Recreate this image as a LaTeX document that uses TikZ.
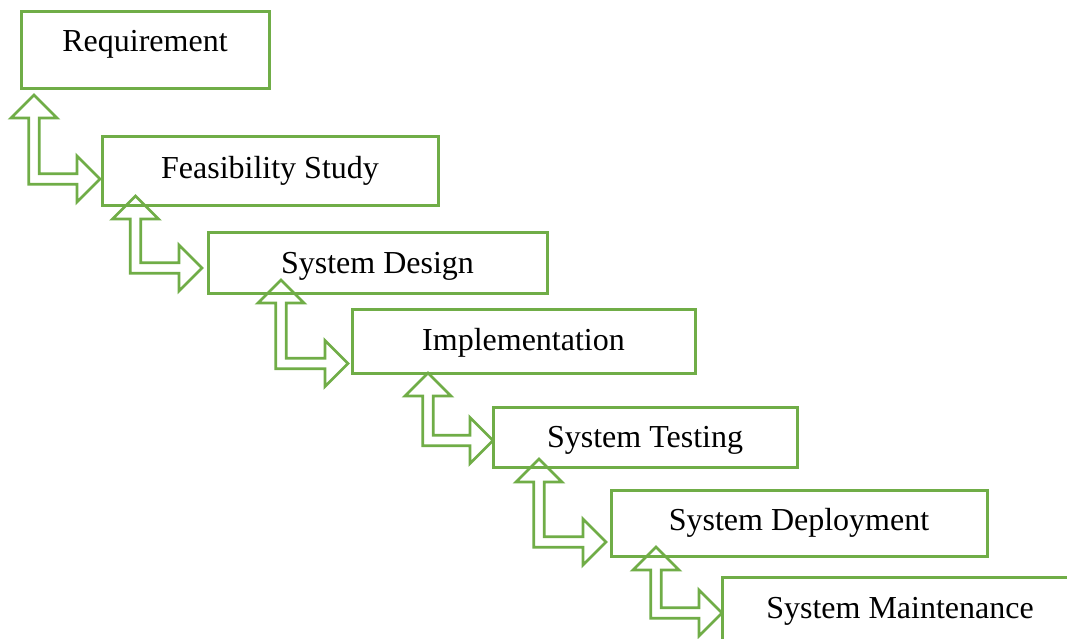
\documentclass[tikz,border=0pt]{standalone}
\usepackage{fontspec}
\setmainfont{Liberation Serif}
\definecolor{ogreen}{HTML}{70AD47}
\tikzset{
  box/.style={draw=ogreen, line width=3pt, rectangle, inner sep=0pt, outer sep=0pt},
  lbl/.style={anchor=base, inner sep=0pt, font=\fontsize{32}{38}\selectfont},
  arr/.style={draw=ogreen, line width=2.8pt, line join=miter}
}
% #1 shaft centre x, #2 up tip y, #3 horizontal shaft centre y, #4 right tip x
\newcommand\bentarrow[4]{%
  \draw[arr] (#1,#2) -- ({#1+23},{#2+23}) -- ({#1+5.25},{#2+23}) -- ({#1+5.25},{#3-5.25})
    -- ({#4-23},{#3-5.25}) -- ({#4-23},{#3-23}) -- (#4,#3) -- ({#4-23},{#3+23})
    -- ({#4-23},{#3+5.25}) -- ({#1-5.25},{#3+5.25}) -- ({#1-5.25},{#2+23})
    -- ({#1-23},{#2+23}) -- cycle;}
\begin{document}
\begin{tikzpicture}[x=1pt,y=-1pt]
\useasboundingbox (0,0) rectangle (1067,639);
\clip (0,0) rectangle (1067,639);
\fill[white] (0,0) rectangle (1067,639);
% boxes
\node[box, minimum width=248pt, minimum height=77pt] (b1) at (145,50.5) {};
\node[box, minimum width=336pt, minimum height=68pt] (b2) at (270,171) {};
\node[box, minimum width=339pt, minimum height=61pt] (b3) at (377.5,262.5) {};
\node[box, minimum width=343pt, minimum height=64pt] (b4) at (523.5,341) {};
\node[box, minimum width=304pt, minimum height=60pt] (b5) at (645,437) {};
\node[box, minimum width=376pt, minimum height=66pt] (b6) at (799,523) {};
\node[box, minimum width=358pt, minimum height=83pt] (b7) at (901,618.5) {};
% arrows
\bentarrow{34}{95}{179}{100}
\bentarrow{135.5}{196}{268}{202}
\bentarrow{281}{280}{363.5}{348}
\bentarrow{428}{373}{440.5}{493}
\bentarrow{539}{459}{542}{606}
\bentarrow{656}{547}{613}{722}
% labels
\node[lbl] (t1) at (145,52) {Requirement};
\node[lbl] (t2) at (270,178.5) {Feasibility Study};
\node[lbl] (t3) at (377.5,273.5) {System Design};
\node[lbl] (t4) at (523.5,350.5) {Implementation};
\node[lbl] (t5) at (645,447.5) {System Testing};
\node[lbl] (t6) at (799,530.5) {System Deployment};
\node[lbl] (t7) at (900,618) {System Maintenance};
\end{tikzpicture}
\end{document}
